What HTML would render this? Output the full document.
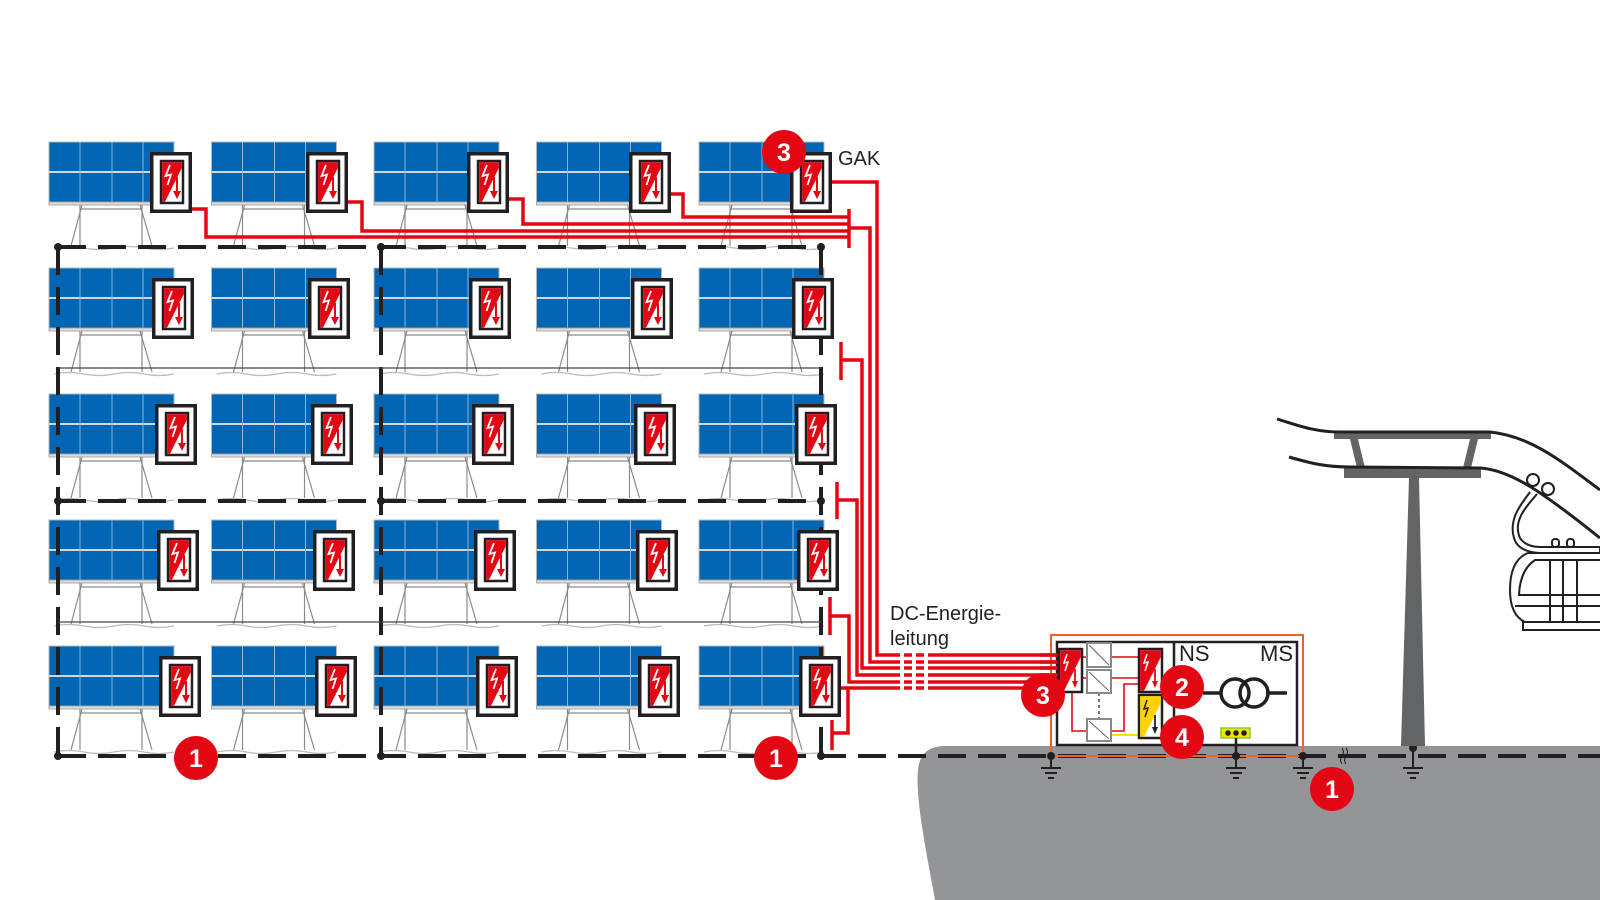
<!DOCTYPE html>
<html><head><meta charset="utf-8"><style>
html,body{margin:0;padding:0;background:#fff;width:1600px;height:900px;overflow:hidden}
svg{display:block}
text{font-family:"Liberation Sans",sans-serif}
</style></head><body>
<svg width="1600" height="900" viewBox="0 0 1600 900" xmlns="http://www.w3.org/2000/svg">
<defs>
<g id="pan">
<rect x="0" y="0" width="125" height="60" fill="#0066b3" stroke="#b5b5b5" stroke-width="1"/>
<line x1="0" y1="30" x2="125" y2="30" stroke="#cfd8e3" stroke-width="2"/>
<line x1="31" y1="0" x2="31" y2="60" stroke="#8fb3d9" stroke-width="1"/>
<line x1="63" y1="0" x2="63" y2="60" stroke="#8fb3d9" stroke-width="1"/>
<line x1="94" y1="0" x2="94" y2="60" stroke="#8fb3d9" stroke-width="1"/>
<rect x="0" y="60" width="125" height="3" fill="#ddd" stroke="#999" stroke-width="0.8"/>
<g stroke="#8a8a8a" stroke-width="1.2" fill="none">
<line x1="31" y1="63" x2="31" y2="104"/><line x1="33" y1="63" x2="22" y2="104"/>
<line x1="93" y1="63" x2="93" y2="104"/><line x1="91" y1="63" x2="103" y2="104"/>
<line x1="31" y1="67" x2="93" y2="67"/>
<path d="M5,106 q15,-3 30,0 t30,0 t30,0 t30,0" stroke="#bbb"/>
</g>
</g>
<g id="box">
<rect x="1.75" y="1.75" width="38.5" height="57.5" fill="#fff" stroke="#231f20" stroke-width="3.5"/>
<rect x="11" y="9" width="22" height="42" fill="#fff" stroke="#231f20" stroke-width="2.5"/>
<polygon points="12.2,10.2 31.8,10.2 31.8,16 15,49.8 12.2,49.8" fill="#e30613"/>
<polyline points="20,13 15.5,24 21,22.5 17.5,33" fill="none" stroke="#fff" stroke-width="1.8"/>
<line x1="27" y1="25" x2="27" y2="42" stroke="#e30613" stroke-width="2"/>
<polygon points="23,39 31,39 27,47" fill="#e30613"/>
</g>
<g id="pr"><use href="#pan" x="49"/><use href="#pan" x="211.5"/><use href="#pan" x="374"/><use href="#pan" x="536.5"/><use href="#pan" x="699"/></g>
</defs>

<path d="M935,900 C928,860 915,800 918,770 Q920,746 945,746 L1600,746 L1600,900 Z" fill="#939598"/>

<use href="#pr" y="142"/><use href="#pr" y="268"/><use href="#pr" y="394"/><use href="#pr" y="520"/><use href="#pr" y="646"/>

<g stroke="#231f20" stroke-width="4" fill="none" stroke-dasharray="28 12">
<line x1="58" y1="247" x2="821" y2="247"/>
<line x1="58" y1="501" x2="821" y2="501"/>
<line x1="58" y1="756" x2="1600" y2="756"/>
<line x1="58" y1="247" x2="58" y2="756"/>
<line x1="381" y1="247" x2="381" y2="756"/>
<line x1="821" y1="247" x2="821" y2="756"/>
</g>
<g stroke="#444" stroke-width="1.2"><line x1="58" y1="368" x2="821" y2="368"/><line x1="58" y1="622" x2="821" y2="622"/></g>
<g fill="#231f20"><circle cx="58" cy="247" r="4"/><circle cx="381" cy="247" r="4"/><circle cx="821" cy="247" r="4"/><circle cx="58" cy="501" r="4"/><circle cx="381" cy="501" r="4"/><circle cx="821" cy="501" r="4"/><circle cx="58" cy="756" r="4"/><circle cx="381" cy="756" r="4"/><circle cx="821" cy="756" r="4"/></g>

<g stroke="#e30613" stroke-width="3.5" fill="none">
<polyline points="190,209 206,209 206,237 849,237"/>
<polyline points="345,202 362,202 362,231 849,231"/>
<polyline points="505,199 523,199 523,224 849,224"/>
<polyline points="667,194 683,194 683,217 849,217"/>
<line x1="849" y1="209" x2="849" y2="248"/>
<polyline points="830,182 877,182 877,655 897,655"/>
<polyline points="849,228 870,228 870,662 897,662"/>
<line x1="841" y1="342" x2="841" y2="380"/><polyline points="841,360 862,360 862,668 897,668"/>
<line x1="837" y1="482" x2="837" y2="519"/><polyline points="837,500 857,500 857,675 897,675"/>
<line x1="830" y1="597" x2="830" y2="635"/><polyline points="830,616 849,616 849,682 897,682"/>
<line x1="832" y1="720" x2="832" y2="750"/><polyline points="832,733 848,733 848,688 897,688"/>
<line x1="838" y1="688" x2="848" y2="688"/>
<g stroke-dasharray="3 4 8 4 8 4 8 4"><line x1="897" y1="655" x2="935" y2="655"/><line x1="897" y1="662" x2="935" y2="662"/><line x1="897" y1="668" x2="935" y2="668"/><line x1="897" y1="675" x2="935" y2="675"/><line x1="897" y1="682" x2="935" y2="682"/><line x1="897" y1="688" x2="935" y2="688"/></g>
<line x1="935" y1="655" x2="1060" y2="655"/><line x1="935" y1="662" x2="1060" y2="662"/><line x1="935" y1="668" x2="1060" y2="668"/><line x1="935" y1="675" x2="1060" y2="675"/><line x1="935" y1="682" x2="1060" y2="682"/><line x1="935" y1="688" x2="1060" y2="688"/>
</g>

<use href="#box" x="150" y="152"/><use href="#box" x="306" y="152"/><use href="#box" x="467" y="152"/><use href="#box" x="629" y="152"/><use href="#box" x="790" y="152"/>
<use href="#box" x="152" y="278"/><use href="#box" x="308" y="278"/><use href="#box" x="469" y="278"/><use href="#box" x="631" y="278"/><use href="#box" x="792" y="278"/>
<use href="#box" x="155" y="404"/><use href="#box" x="311" y="404"/><use href="#box" x="472" y="404"/><use href="#box" x="634" y="404"/><use href="#box" x="795" y="404"/>
<use href="#box" x="157" y="530"/><use href="#box" x="313" y="530"/><use href="#box" x="474" y="530"/><use href="#box" x="636" y="530"/><use href="#box" x="797" y="530"/>
<use href="#box" x="159" y="656"/><use href="#box" x="315" y="656"/><use href="#box" x="476" y="656"/><use href="#box" x="638" y="656"/><use href="#box" x="799" y="656"/>

<text x="838" y="165" font-size="20" fill="#231f20">GAK</text>
<text x="890" y="620" font-size="20" fill="#231f20">DC-Energie-</text>
<text x="890" y="645" font-size="20" fill="#231f20">leitung</text>

<rect x="1051" y="635" width="252" height="121" fill="none" stroke="#e8632b" stroke-width="2"/>
<rect x="1057" y="642" width="240" height="103" fill="#fff" stroke="#231f20" stroke-width="2.5"/>
<line x1="1174" y1="642" x2="1174" y2="745" stroke="#231f20" stroke-width="2.5"/>
<g stroke="#e30613" stroke-width="3.5"><line x1="1040" y1="655" x2="1060" y2="655"/><line x1="1040" y1="662" x2="1060" y2="662"/><line x1="1040" y1="668" x2="1060" y2="668"/><line x1="1040" y1="675" x2="1060" y2="675"/><line x1="1040" y1="682" x2="1060" y2="682"/><line x1="1040" y1="688" x2="1060" y2="688"/></g>
<g stroke="#e30613" stroke-width="1.6" fill="none">
<line x1="1082" y1="657" x2="1139" y2="657"/><line x1="1082" y1="678" x2="1139" y2="678"/>
<polyline points="1072,692 1072,731 1087,731"/><polyline points="1111,731 1124,731 1124,684 1139,684"/>
</g>
<line x1="1111" y1="735" x2="1139" y2="735" stroke="#f5e400" stroke-width="2"/>
<line x1="1099" y1="693" x2="1099" y2="719" stroke="#777" stroke-width="2" stroke-dasharray="3 3"/>
<g fill="#fff" stroke="#888" stroke-width="2">
<rect x="1087" y="643" width="24" height="24"/><rect x="1087" y="670" width="24" height="23"/><rect x="1087" y="719" width="24" height="22"/>
</g>
<g stroke="#666" stroke-width="1"><line x1="1089" y1="645" x2="1109" y2="665"/><line x1="1089" y1="672" x2="1109" y2="691"/><line x1="1089" y1="721" x2="1109" y2="739"/></g>
<g transform="translate(1059,649)"><rect x="0" y="0" width="23" height="43" fill="#fff" stroke="#231f20" stroke-width="2.5"/><polygon points="1.2,1.2 21.8,1.2 21.8,8 5,41.8 1.2,41.8" fill="#e30613"/><polyline points="8,5 5,14 9,13 6,22" fill="none" stroke="#fff" stroke-width="1.5"/><line x1="16" y1="20" x2="16" y2="34" stroke="#e30613" stroke-width="1.8"/><polygon points="13,32 19,32 16,39" fill="#e30613"/></g>
<g transform="translate(1139,649)"><rect x="0" y="0" width="23" height="43" fill="#fff" stroke="#231f20" stroke-width="2.5"/><polygon points="1.2,1.2 21.8,1.2 21.8,8 5,41.8 1.2,41.8" fill="#e30613"/><polyline points="8,5 5,14 9,13 6,22" fill="none" stroke="#fff" stroke-width="1.5"/><line x1="16" y1="20" x2="16" y2="34" stroke="#e30613" stroke-width="1.8"/><polygon points="13,32 19,32 16,39" fill="#e30613"/></g>
<g transform="translate(1139,695)"><rect x="0" y="0" width="23" height="43" fill="#fff" stroke="#231f20" stroke-width="2.5"/><polygon points="1.2,1.2 21.8,1.2 21.8,8 5,41.8 1.2,41.8" fill="#ffd200"/><polyline points="8,5 5,14 9,13 6,22" fill="none" stroke="#231f20" stroke-width="1.5"/><line x1="16" y1="20" x2="16" y2="34" stroke="#231f20" stroke-width="1.8"/><polygon points="13,32 19,32 16,39" fill="#231f20"/></g>
<text x="1179" y="661" font-size="22" fill="#231f20">NS</text>
<text x="1293" y="661" font-size="22" fill="#231f20" text-anchor="end">MS</text>
<g stroke="#231f20" stroke-width="3.5" fill="none"><line x1="1203" y1="693" x2="1222" y2="693"/><line x1="1266" y1="693" x2="1287" y2="693"/><circle cx="1235" cy="693" r="14"/><circle cx="1254" cy="693" r="14"/></g>
<rect x="1221" y="728" width="29" height="10" fill="#f5e400" stroke="#8dc63f" stroke-width="1.5"/>
<g fill="#231f20"><circle cx="1228" cy="733" r="2.8"/><circle cx="1236" cy="733" r="2.8"/><circle cx="1244" cy="733" r="2.8"/></g>
<line x1="1236" y1="738" x2="1236" y2="756" stroke="#231f20" stroke-width="2.5"/>
<g stroke="#231f20" stroke-width="2" fill="none">
<path d="M1051,756 v12 M1041,768 h20 M1045,773 h12 M1048,778 h6"/>
<path d="M1236,756 v12 M1226,768 h20 M1230,773 h12 M1233,778 h6"/>
<path d="M1303,756 v12 M1293,768 h20 M1297,773 h12 M1300,778 h6"/>
<path d="M1413,748 v20 M1403,768 h20 M1407,773 h12 M1410,778 h6"/>
<path d="M1342,748 q3,4 0,8 t0,8 M1346,748 q3,4 0,8 t0,8" stroke-width="1"/>
</g>
<g fill="#231f20"><circle cx="1051" cy="756" r="4"/><circle cx="1236" cy="756" r="4"/><circle cx="1303" cy="756" r="4"/><circle cx="1413" cy="748" r="4"/></g>

<polygon points="1409,478 1419,478 1425,746 1401,746" fill="#636466"/>
<rect x="1334" y="433" width="157" height="6" fill="#636466"/>
<rect x="1344" y="468" width="137" height="10" fill="#636466"/>
<polygon points="1350,439 1358,439 1365,468 1357,468" fill="#636466"/>
<polygon points="1470,439 1478,439 1471,468 1463,468" fill="#636466"/>
<g stroke="#231f20" stroke-width="3" fill="none">
<path d="M1277,419 C1300,426 1315,432 1340,432 L1490,432 C1530,436 1560,460 1600,490"/>
<path d="M1289,457 C1310,463 1325,467 1350,467 L1480,468 C1510,470 1540,490 1600,538"/>
</g>
<g stroke="#231f20" stroke-width="2" fill="#fff">
<circle cx="1533" cy="480" r="6"/><circle cx="1548" cy="489" r="6"/>
<path d="M1537,494 C1528,505 1512,520 1520,538 Q1526,547 1540,547 L1600,547 L1600,553 L1540,553 Q1518,552 1514,538 C1508,518 1523,502 1530,492" />
<rect x="1552" y="539" width="7" height="8" rx="3"/><rect x="1567" y="539" width="7" height="8" rx="3"/>
<path d="M1600,553 L1528,553 Q1510,560 1510,590 Q1510,615 1525,622 L1600,622"/>
<path d="M1600,560 L1535,560 Q1520,570 1519,595 L1600,595" fill="none"/>
<rect x="1523" y="622" width="80" height="8"/>
<path d="M1550,560 V622 M1563,560 V622 M1577,560 V622 M1515,606 H1600" fill="none"/>
</g>

<g fill="#e30613"><circle cx="784" cy="152" r="22"/><circle cx="196" cy="758" r="22"/><circle cx="776" cy="758" r="22"/><circle cx="1332" cy="789" r="22"/><circle cx="1043" cy="695" r="22"/><circle cx="1182" cy="687" r="22"/><circle cx="1182" cy="737" r="22"/></g>
<g fill="#fff" font-size="25" font-weight="bold" text-anchor="middle">
<text x="784" y="161">3</text><text x="196" y="767">1</text><text x="776" y="767">1</text><text x="1332" y="798">1</text><text x="1043" y="704">3</text><text x="1182" y="696">2</text><text x="1182" y="746">4</text>
</g>
</svg>
</body></html>
